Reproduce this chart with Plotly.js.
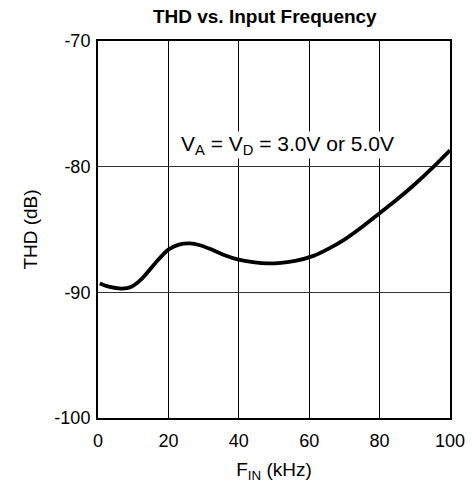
<!DOCTYPE html>
<html>
<head>
<meta charset="utf-8">
<script src="https://cdn.plot.ly/plotly-3.0.1.min.js"></script>
<style>html,body{margin:0;padding:0;background:#fff}#chart{width:472px;height:487px}</style>
</head>
<body>
<div id="chart"></div>
<script>
const freqKHz = [0.5, 3, 6.7, 9.5, 12.5, 16.2, 20, 23, 26.1, 29, 32.3, 36, 39.9, 44, 48.4, 52, 56, 61.2, 65, 70, 75, 80, 85, 90, 95, 100];
const thdDb   = [-89.3, -89.55, -89.7, -89.55, -88.9, -87.7, -86.6, -86.2, -86.1, -86.25, -86.6, -87.05, -87.4, -87.6, -87.7, -87.65, -87.5, -87.1, -86.6, -85.8, -84.8, -83.7, -82.6, -81.4, -80.1, -78.7];
const xTicks = [0, 20, 40, 60, 80, 100];
const xTickText = ['0', '20', '40', '60', '80', '100'];
const yTicks = [-100, -90, -80, -70];
const yTickText = ['-100', '-90', '-80', '-70'];

const font = "Liberation Sans, Arial, sans-serif";
Plotly.newPlot('chart', [{
  x: freqKHz, y: thdDb, type: 'scatter', mode: 'lines',
  line: {color: '#000', width: 3.8, shape: 'spline', smoothing: 0.9},
  hoverinfo: 'skip'
}], {
  width: 472, height: 487,
  margin: {l: 98, r: 22, t: 41, b: 69},
  paper_bgcolor: '#fff', plot_bgcolor: '#fff',
  showlegend: false,
  title: {text: '<b>THD vs. Input Frequency</b>', font: {family: font, size: 19, color: '#000'}, x: 0.561, xanchor: 'center', y: 0.967, yanchor: 'middle'},
  xaxis: {
    range: [0, 100], tickvals: xTicks, ticktext: xTickText,
    ticks: 'outside', ticklen: 5, tickcolor: 'rgba(0,0,0,0)',
    showgrid: true, gridcolor: '#000', gridwidth: 1,
    zeroline: false, showline: true, linecolor: '#000', linewidth: 2, mirror: true,
    tickfont: {family: font, size: 18, color: '#000'},
    title: {text: 'F<sub>IN</sub> (kHz)', font: {family: font, size: 19, color: '#000'}, standoff: 13}
  },
  yaxis: {
    range: [-100, -70], tickvals: yTicks, ticktext: yTickText,
    ticks: 'outside', ticklen: 2, tickcolor: 'rgba(0,0,0,0)',
    showgrid: true, gridcolor: '#333', gridwidth: 1.5,
    zeroline: false, showline: true, linecolor: '#000', linewidth: 2, mirror: true,
    tickfont: {family: font, size: 18, color: '#000'},
    title: {text: 'THD (dB)', font: {family: font, size: 19, color: '#000'}, standoff: 12}
  },
  annotations: [{
    x: 53.7, y: -78.3, xref: 'x', yref: 'y', showarrow: false,
    text: 'V<sub>A</sub> = V<sub>D</sub> = 3.0V or 5.0V',
    font: {family: font, size: 21, color: '#000'}, bgcolor: '#fff', borderpad: 0
  }]
}, {displayModeBar: false, staticPlot: true});
</script>
</body>
</html>
